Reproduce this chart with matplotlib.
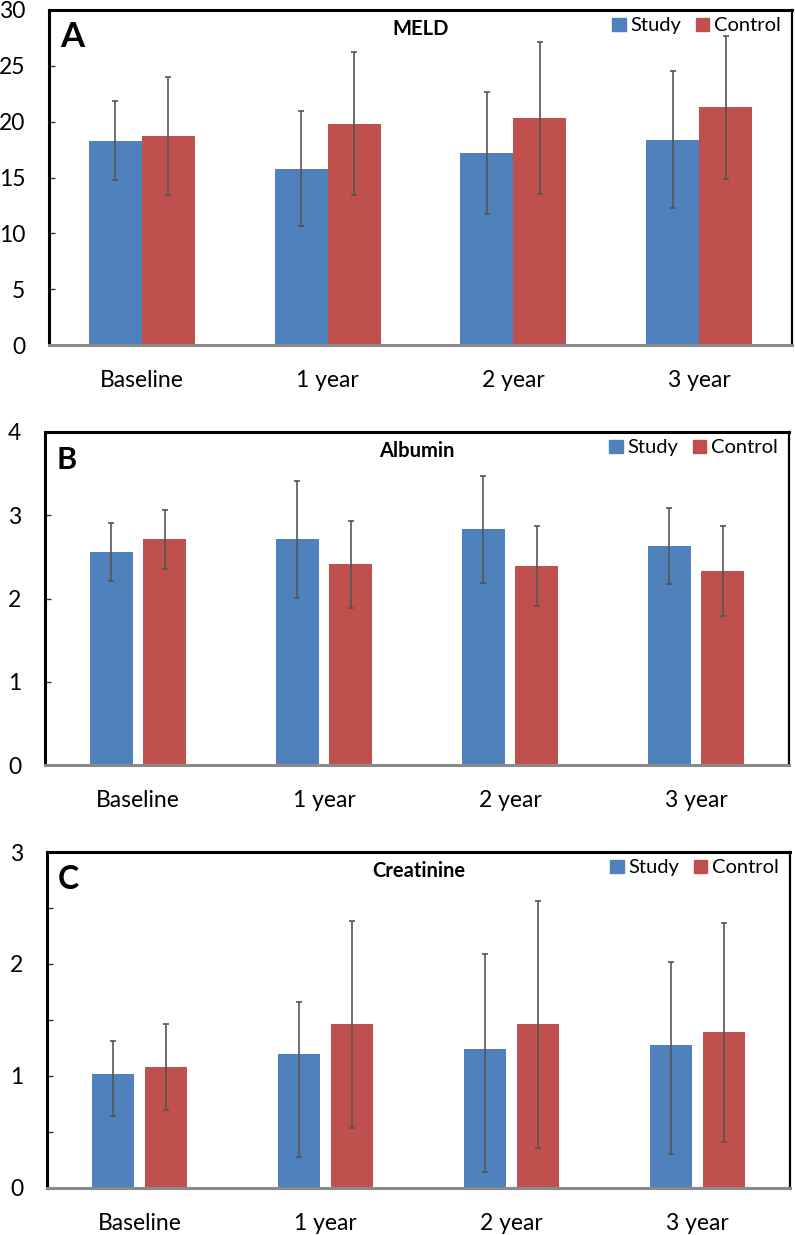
import matplotlib
matplotlib.use("Agg")
import matplotlib.pyplot as plt
import numpy as np
from matplotlib.patches import Patch
from matplotlib.ticker import MultipleLocator

plt.rcParams['font.family'] = ['Lato', 'DejaVu Sans']

categories = ['Baseline', '1 year', '2 year', '3 year']
series_names = ['Study', 'Control']

meld_study = [18.3, 15.8, 17.2, 18.4]
meld_study_err = [3.55, 5.15, 5.5, 6.1]
meld_control = [18.7, 19.8, 20.3, 21.3]
meld_control_err = [5.3, 6.4, 6.8, 6.4]

alb_study = [2.56, 2.71, 2.83, 2.63]
alb_study_err = [0.35, 0.70, 0.645, 0.46]
alb_control = [2.71, 2.41, 2.39, 2.33]
alb_control_err = [0.35, 0.52, 0.48, 0.545]

cr_study = [1.02, 1.20, 1.24, 1.28]
cr_study_err_low = [0.38, 0.92, 1.10, 0.98]
cr_study_err_high = [0.29, 0.46, 0.85, 0.74]
cr_control = [1.08, 1.46, 1.46, 1.39]
cr_control_err = [0.38, 0.92, 1.10, 0.98]

BLUE = '#4F81BD'
RED = '#C0504D'
ERR = '#555555'

fig = plt.figure(figsize=(7.95, 12.35), dpi=100)

panels = [
    dict(rect=[49/795, 1-345/1235, 743/795, 335/1235], title='MELD', letter='A', lsize=25,
         study=meld_study, s_err=[meld_study_err, meld_study_err],
         control=meld_control, c_err=[meld_control_err, meld_control_err],
         ymax=30, major=5, minor=None, width=0.285, offset=0.1425),
    dict(rect=[45/795, 1-765/1235, 744/795, 333/1235], title='Albumin', letter='B', lsize=22,
         study=alb_study, s_err=[alb_study_err, alb_study_err],
         control=alb_control, c_err=[alb_control_err, alb_control_err],
         ymax=4, major=1, minor=None, width=0.226, offset=0.1425),
    dict(rect=[47/795, 1-1188/1235, 743/795, 336/1235], title='Creatinine', letter='C', lsize=23,
         study=cr_study, s_err=[cr_study_err_low, cr_study_err_high],
         control=cr_control, c_err=[cr_control_err, cr_control_err],
         ymax=3, major=1, minor=0.5, width=0.226, offset=0.1425),
]

x = np.arange(len(categories))
for p in panels:
    ax = fig.add_axes(p['rect'])
    ekw = dict(ecolor=ERR, elinewidth=1.2, capsize=2.0, capthick=1.2)
    ax.bar(x - p['offset'], p['study'], p['width'], color=BLUE, yerr=p['s_err'],
           error_kw=ekw, zorder=2)
    ax.bar(x + p['offset'], p['control'], p['width'], color=RED, yerr=p['c_err'],
           error_kw=ekw, zorder=2)
    ax.set_xlim(-0.5, len(categories) - 0.5)
    ax.set_ylim(0, p['ymax'])
    ax.yaxis.set_major_locator(MultipleLocator(p['major']))
    if p['minor']:
        ax.yaxis.set_minor_locator(MultipleLocator(p['minor']))
        ax.tick_params(axis='y', which='minor', direction='in', length=4, width=1, color='#333333')
    ax.set_xticks(x)
    ax.set_xticklabels(categories)
    ax.tick_params(axis='x', length=0, pad=18, labelsize=16.5)
    ax.tick_params(axis='y', which='major', direction='in', length=4, width=1,
                   color='#333333', pad=17, labelsize=16.5)
    for side in ['left', 'top']:
        ax.spines[side].set_linewidth(2.2)
        ax.spines[side].set_color('black')
    ax.spines['right'].set_linewidth(1.6)
    ax.spines['right'].set_color('black')
    ax.spines['bottom'].set_linewidth(2.2)
    ax.spines['bottom'].set_color('#8a8a8a')
    ax.text(0.5, 1 - 19/335, p['title'], transform=ax.transAxes, ha='center', va='center',
            fontsize=14.5, fontweight='bold')
    ax.text(0.015, 1 - 37/335, p['letter'], transform=ax.transAxes, ha='left', va='baseline',
            fontsize=p['lsize'], fontweight='bold')
    handles = [Patch(color=BLUE), Patch(color=RED)]
    ax.legend(handles, series_names, ncol=2, loc='upper right', bbox_to_anchor=(0.99, 0.99),
              frameon=False, fontsize=14.5, handlelength=0.65, handleheight=0.65,
              handletextpad=0.25, columnspacing=0.7, borderpad=0.2, borderaxespad=0.0)

fig.savefig('out.png', dpi=100)
